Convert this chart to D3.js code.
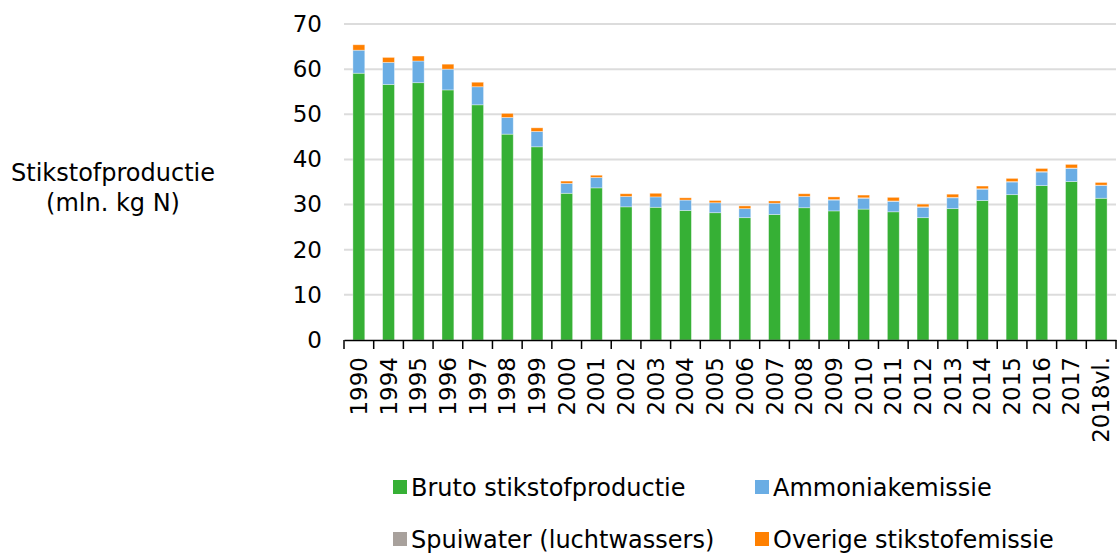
<!DOCTYPE html>
<html>
<head>
<meta charset="utf-8">
<script src="https://cdn.jsdelivr.net/npm/d3@7"></script>
<style>
	body { margin: 0; background: #fff; }
	svg text { font-family: Verdana, "DejaVu Sans", sans-serif; fill: #000; }
</style>
</head>
<body>
<div id="chart"></div>
<script>
// categories and series (mln. kg N)
const years = ['1990', '1994', '1995', '1996', '1997', '1998', '1999', '2000', '2001', '2002',
	'2003', '2004', '2005', '2006', '2007', '2008', '2009', '2010', '2011', '2012',
	'2013', '2014', '2015', '2016', '2017', '2018vl.'];
const bruto = [59.1, 56.6, 57.0, 55.4, 52.1, 45.6, 42.8, 32.5, 33.7, 29.5,
	29.4, 28.7, 28.2, 27.1, 27.8, 29.3, 28.6, 29.0, 28.4, 27.1,
	29.1, 30.9, 32.2, 34.2, 35.1, 31.4];
const ammoniak = [5.1, 4.9, 4.8, 4.6, 4.0, 3.7, 3.4, 2.2, 2.3, 2.3,
	2.3, 2.3, 2.2, 2.0, 2.5, 2.5, 2.4, 2.4, 2.3, 2.3,
	2.4, 2.5, 2.8, 3.0, 2.9, 2.8];
const spuiwater = [0, 0, 0, 0, 0, 0, 0, 0, 0, 0,
	0, 0, 0, 0, 0, 0, 0.1, 0.1, 0.1, 0.1,
	0.1, 0.1, 0.1, 0.1, 0.1, 0.1];
const overige = [1.2, 1.1, 1.1, 1.1, 1.0, 0.9, 0.8, 0.5, 0.5, 0.6,
	0.8, 0.5, 0.5, 0.6, 0.5, 0.6, 0.6, 0.6, 0.8, 0.6,
	0.7, 0.6, 0.7, 0.7, 0.8, 0.6];
const yTicks = [0, 10, 20, 30, 40, 50, 60, 70];

const seriesNames = ['Bruto stikstofproductie', 'Ammoniakemissie', 'Spuiwater (luchtwassers)', 'Overige stikstofemissie'];
const seriesColors = ['#36b035', '#6aade4', '#a8a19c', '#ff8000'];

const width = 1118, height = 554;
const svg = d3.select('#chart').append('svg')
	.attr('width', width)
	.attr('height', height);

let table = years.map((y, i) => ({
	year: y,
	s0: bruto[i], s1: ammoniak[i], s2: spuiwater[i], s3: overige[i]
}));
let stacked = d3.stack().keys(['s0', 's1', 's2', 's3'])(table);

let x = d3.scaleBand().domain(years).range([344, 1116]);
let y = d3.scaleLinear().domain([0, 70]).range([340, 24]);
let step = x.bandwidth();

// gridlines
svg.append('g')
	.selectAll('line')
	.data(yTicks.filter(t => t > 0))
	.enter()
	.append('line')
	.attr('x1', 344)
	.attr('x2', 1116)
	.attr('y1', d => y(d))
	.attr('y2', d => y(d))
	.attr('stroke', '#dcdcdc')
	.attr('stroke-width', 2);

// y tick labels
let yAxis = svg.append('g')
	.attr('transform', 'translate(344,0)')
	.call(d3.axisLeft(y).tickValues(yTicks).tickSize(0).tickPadding(22));
yAxis.select('.domain').remove();
yAxis.selectAll('text')
	.attr('font-size', 23)
	.attr('font-family', 'Verdana, "DejaVu Sans", sans-serif')
	.attr('fill', '#000');

// bars
svg.append('g')
	.selectAll('g')
	.data(stacked)
	.enter()
	.append('g')
	.attr('fill', (d, i) => seriesColors[i])
	.selectAll('rect')
	.data(d => d)
	.enter()
	.append('rect')
	.attr('x', d => x(d.data.year) + step * 0.3)
	.attr('width', step * 0.4)
	.attr('y', d => y(d[1]))
	.attr('height', d => Math.max(0, y(d[0]) - y(d[1])))
	.attr('stroke', 'rgba(255,255,255,0.45)')
	.attr('stroke-width', 0.8);

// x axis
let xAxis = svg.append('g')
	.attr('transform', 'translate(0,340)')
	.call(d3.axisBottom(x).tickSize(0).tickPadding(0));
xAxis.select('.domain')
	.attr('stroke', '#000')
	.attr('stroke-width', 1.5);
xAxis.selectAll('text')
	.attr('font-size', 23)
	.attr('font-family', 'Verdana, "DejaVu Sans", sans-serif')
	.attr('fill', '#000')
	.attr('text-anchor', 'end')
	.attr('dy', null)
	.attr('dominant-baseline', 'central')
	.attr('transform', 'translate(0,17) rotate(-90)');

// tick marks at band boundaries
svg.append('g')
	.selectAll('line')
	.data(years.concat(['end']))
	.enter()
	.append('line')
	.attr('x1', (d, i) => 344 + i * step)
	.attr('x2', (d, i) => 344 + i * step)
	.attr('y1', 340)
	.attr('y2', 349)
	.attr('stroke', '#000')
	.attr('stroke-width', 1.5);

// y axis title
let title = svg.append('text')
	.attr('x', 113)
	.attr('y', 181)
	.attr('text-anchor', 'middle')
	.attr('font-size', 24);
title.append('tspan').attr('x', 113).attr('dy', 0).text('Stikstofproductie');
title.append('tspan').attr('x', 113).attr('dy', 30).text('(mln. kg N)');

// legend
let legendPos = [[393, 487], [755, 487], [393, 539], [755, 539]];
let legend = svg.append('g')
	.selectAll('g')
	.data(seriesNames)
	.enter()
	.append('g')
	.attr('transform', (d, i) => 'translate(' + legendPos[i][0] + ',' + legendPos[i][1] + ')');

legend.append('rect')
	.attr('x', 0)
	.attr('y', -7)
	.attr('width', 14)
	.attr('height', 14)
	.attr('fill', (d, i) => seriesColors[i]);

legend.append('text')
	.attr('x', 18)
	.attr('y', 1)
	.attr('dominant-baseline', 'central')
	.attr('font-size', 24)
	.text(d => d);
</script>
</body>
</html>
